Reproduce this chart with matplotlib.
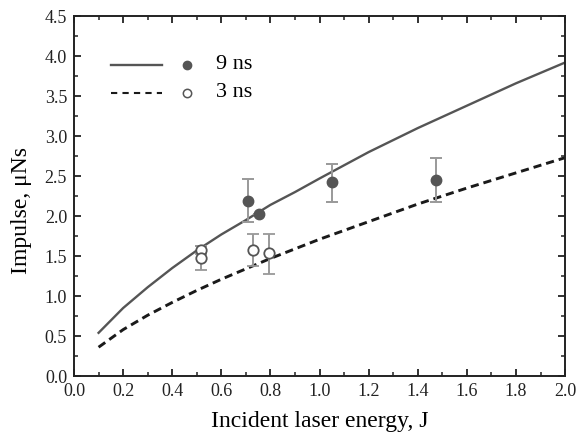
import matplotlib.pyplot as plt
from matplotlib.ticker import MultipleLocator

plt.rcParams['font.family'] = ['Liberation Serif', 'DejaVu Serif']

# model curves
curve_x = [0.1, 0.2, 0.3, 0.4, 0.5, 0.6, 0.7, 0.8, 0.9, 1.0, 1.2, 1.4, 1.6, 1.8, 2.0]
curve_9ns = [0.54, 0.85, 1.11, 1.35, 1.57, 1.77, 1.95, 2.14, 2.30, 2.47, 2.80, 3.10, 3.38, 3.66, 3.92]
curve_3ns = [0.36, 0.58, 0.76, 0.92, 1.07, 1.21, 1.34, 1.47, 1.59, 1.71, 1.93, 2.15, 2.35, 2.54, 2.73]

# measured points
e_9ns = [0.71, 0.755, 1.052, 1.475]
i_9ns = [2.19, 2.02, 2.42, 2.45]
lo_9ns = [0.26, 0.0, 0.24, 0.27]
hi_9ns = [0.27, 0.0, 0.23, 0.28]

e_3ns = [0.516, 0.516, 0.73, 0.796]
i_3ns = [1.57, 1.48, 1.58, 1.54]
lo_3ns = [0.05, 0.15, 0.20, 0.26]
hi_3ns = [0.05, 0.15, 0.19, 0.24]

fig = plt.figure(figsize=(5.88, 4.36), dpi=100)
ax = fig.add_axes([0.1259, 0.1376, 0.961 - 0.1259, 0.963 - 0.1376])

ax.plot(curve_x, curve_9ns, color='#555555', lw=1.7, label='9 ns')
ax.plot(curve_x, curve_3ns, color='#1a1a1a', lw=2.1, ls=(0, (2.8, 1.7)), label='3 ns')

ax.errorbar(e_9ns, i_9ns, yerr=[lo_9ns, hi_9ns], fmt='o', color='#555555',
            ms=7.5, ecolor='#999999', elinewidth=1.4, capsize=4, capthick=1.4, zorder=3)
ax.errorbar(e_3ns, i_3ns, yerr=[lo_3ns, hi_3ns], fmt='o', mfc='white', mec='#555555',
            mew=1.3, ms=7.5, ecolor='#999999', elinewidth=1.4, capsize=4, capthick=1.4, zorder=3)

# legend drawn by hand in data coords
ax.plot([0.15, 0.36], [3.89, 3.89], color='#555555', lw=1.7)
ax.plot([0.15, 0.36], [3.54, 3.54], color='#1a1a1a', lw=1.5, ls=(0, (3, 2.5)))
ax.plot([0.46], [3.89], 'o', color='#555555', ms=6)
ax.plot([0.46], [3.54], 'o', mfc='white', mec='#555555', mew=1.1, ms=6)
ax.text(0.58, 3.89, '9 ns', fontsize=16, va='center')
ax.text(0.58, 3.54, '3 ns', fontsize=16, va='center')

ax.set_xlim(0, 2.0)
ax.set_ylim(0, 4.5)
ax.xaxis.set_major_locator(MultipleLocator(0.2))
ax.xaxis.set_minor_locator(MultipleLocator(0.1))
ax.yaxis.set_major_locator(MultipleLocator(0.5))
ax.yaxis.set_minor_locator(MultipleLocator(0.25))
ax.xaxis.set_major_formatter(plt.FuncFormatter(lambda v, p: f'{v:.1f}'))
ax.yaxis.set_major_formatter(plt.FuncFormatter(lambda v, p: f'{v:.1f}'))
ax.tick_params(which='both', direction='in', top=True, right=True, labelsize=13, colors='#222222')
ax.tick_params(which='major', length=5, width=1.3, pad=5)
ax.tick_params(which='minor', length=3, width=1.1)
for s in ax.spines.values():
    s.set_linewidth(1.4)
    s.set_color('#222222')

ax.set_xlabel('Incident laser energy, J', fontsize=17, labelpad=8)
ax.set_ylabel('Impulse, μNs', fontsize=17)
ax.yaxis.set_label_coords(-0.085, 0.46)

fig.savefig('out.png', dpi=100)
